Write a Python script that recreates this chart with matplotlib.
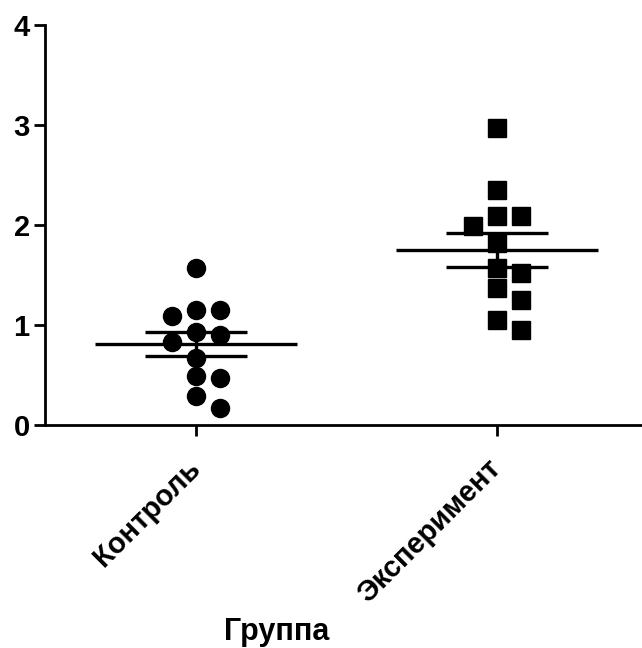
# Точечная диаграмма: среднее ± SEM по группам (в стиле GraphPad Prism)

import numpy as np
import matplotlib
matplotlib.use("Agg")
import matplotlib.pyplot as plt

plt.rcParams['font.family'] = ['Liberation Sans', 'DejaVu Sans']
plt.rcParams['font.weight'] = 'bold'

# Данные
группы = ["Контроль", "Эксперимент"]
контроль = [1.57, 1.15, 1.15, 1.09, 0.93, 0.90, 0.83, 0.67, 0.49, 0.47, 0.29, 0.17]
эксперимент = [2.97, 2.35, 2.09, 2.09, 1.99, 1.82, 1.57, 1.52, 1.37, 1.25, 1.05, 0.95]
маркеры = ['o', 's']
y_ticks = [0, 1, 2, 3, 4]


def смещения_роя(values, min_dy=0.18, step=0.08):
    # простой "рой": точки, которые перекрываются по y, раздвигаются по x
    values = np.asarray(values)
    placed = []
    slots = np.zeros(len(values))
    for i in np.argsort(-values, kind="stable"):
        for s in [0, 1, -1, 2, -2, 3, -3]:
            if all(abs(values[i] - y) >= min_dy for ps, y in placed if ps == s):
                break
        placed.append((s, values[i]))
        slots[i] = s
    return slots * step


fig = plt.figure(figsize=(6.42, 6.48), dpi=100)
ax = fig.add_axes([45 / 642, 223 / 648, 602.5 / 642, 400 / 648])

for i, (vals, m) in enumerate(zip([контроль, эксперимент], маркеры)):
    vals = np.array(vals)
    x = i + смещения_роя(vals)
    ax.plot(x, vals, linestyle='none', marker=m, markersize=13,
            color='black', zorder=2)

    # среднее и стандартная ошибка среднего
    mean = vals.mean()
    sem = vals.std(ddof=1) / np.sqrt(len(vals))
    ax.plot([i - 0.335, i + 0.335], [mean, mean], color='black', lw=2.4,
            solid_capstyle='butt', zorder=3)
    ax.errorbar(i, mean, yerr=sem, fmt='none', ecolor='black', elinewidth=2.4,
                capsize=37, capthick=2.4, zorder=3)

ax.set_xlim(-0.5, 1.5)
ax.set_ylim(0, 4)
ax.set_yticks(y_ticks)
ax.set_xticks(range(len(группы)))
ax.set_xticklabels(группы, rotation=45, ha='right', va='center',
                   rotation_mode='anchor', fontsize=21, fontweight='bold')
ax.tick_params(axis='y', labelsize=21, width=2, length=8, pad=3)
ax.tick_params(axis='x', width=2, length=8, pad=20)

for side in ['top', 'right']:
    ax.spines[side].set_visible(False)
for side in ['left', 'bottom']:
    ax.spines[side].set_linewidth(2)

ax.set_xlabel("Группа", fontsize=22, fontweight='bold', va='center')
ax.xaxis.set_label_coords(0.385, -0.5175)

fig.savefig("out.png", dpi=100, facecolor='white')
